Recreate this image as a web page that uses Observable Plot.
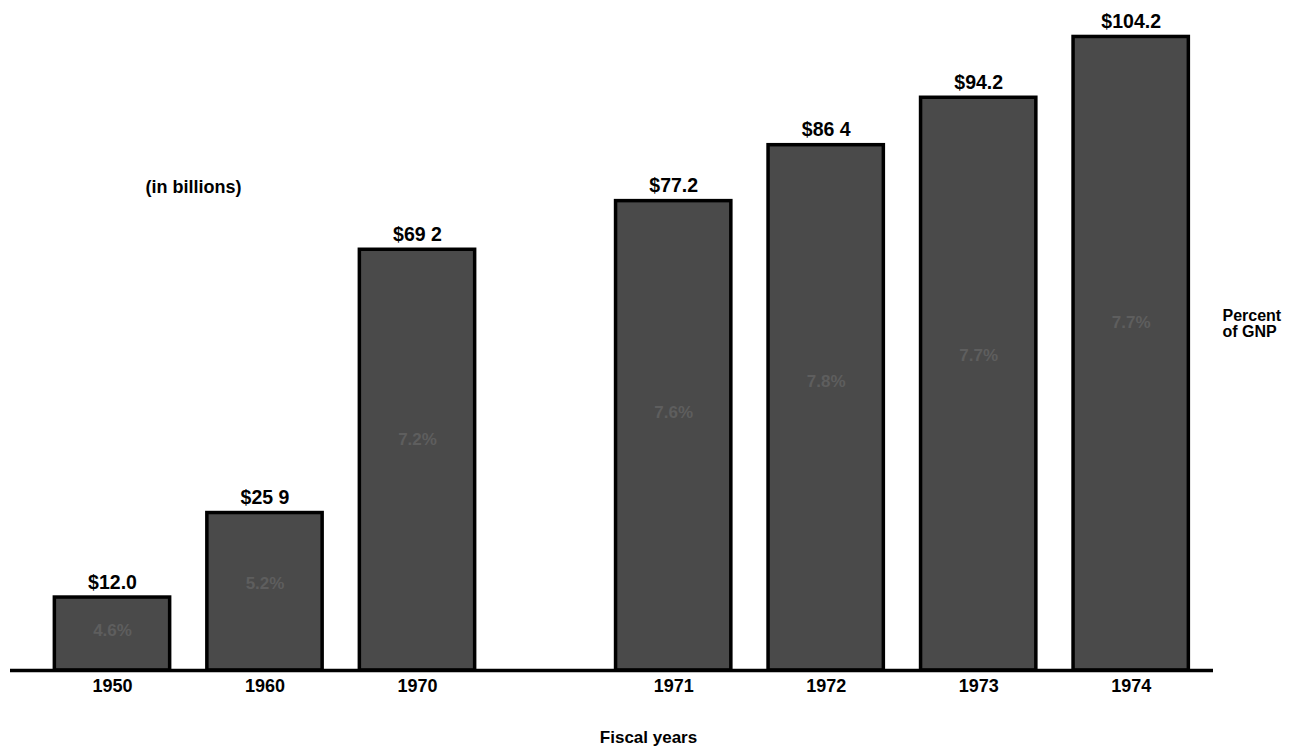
<!DOCTYPE html>
<html>
<head>
<meta charset="utf-8">
<script src="https://cdn.jsdelivr.net/npm/d3@7"></script>
<script src="https://cdn.jsdelivr.net/npm/@observablehq/plot@0.6"></script>
<style>
  html, body { margin: 0; padding: 0; background: #fff; }
  #chart { position: relative; width: 1296px; height: 748px; }
  svg { font-family: "Liberation Sans", Arial, Helvetica, sans-serif; }
</style>
</head>
<body>
<div id="chart"></div>
<script>
// ---- data ----
const years = ["1950", "1960", "1970", "1971", "1972", "1973", "1974"];
const expenditures = [12.0, 25.9, 69.2, 77.2, 86.4, 94.2, 104.2];
const valueLabels = ["$12.0", "$25 9", "$69 2", "$77.2", "$86 4", "$94.2", "$104.2"];
const percentGNP = ["4.6%", "5.2%", "7.2%", "7.6%", "7.8%", "7.7%", "7.7%"];
const unitNote = "(in billions)";
const xTitle = "Fiscal years";
const rightNote = ["Percent", "of GNP"];

// ---- layout (slot positions: extra gap between 1970 and 1971) ----
const gap = 0.68;
const halfBar = 0.378;
const rows = years.map((y, i) => ({
  year: y,
  value: expenditures[i],
  label: valueLabels[i],
  pct: percentGNP[i],
  slot: i + (i >= 3 ? gap : 0)
}));

const W = 1296, H = 748;
const x0 = 112, step = 152.5;
const xDomain = [(0 - x0) / step, (W - x0) / step];
const baseY = 670;
const pxPerUnit = 6.08;
const yDomain = [0, baseY / pxPerUnit];

const plot = Plot.plot({
  width: W,
  height: H,
  marginLeft: 0,
  marginRight: 0,
  marginTop: 0,
  marginBottom: H - baseY,
  x: {type: "linear", domain: xDomain, axis: null},
  y: {domain: yDomain, axis: null},
  style: {fontFamily: "'Liberation Sans', Arial, Helvetica, sans-serif", background: "#fff"},
  marks: [
    Plot.rectY(rows, {
      x1: d => d.slot - halfBar,
      x2: d => d.slot + halfBar,
      y1: 0,
      y2: "value",
      fill: "#4a4a4a",
      stroke: "#000",
      strokeWidth: 3.5
    }),
    Plot.text(rows, {
      x: "slot",
      y: d => d.value * 0.55,
      text: "pct",
      fill: "#5e5e5e",
      fontSize: 17,
      fontWeight: "bold"
    }),
    Plot.text(rows, {
      x: "slot",
      y: "value",
      text: "label",
      dy: -15,
      fontSize: 19.5,
      fontWeight: "bold",
      fill: "#000"
    }),
    Plot.ruleY([0], {
      x1: (10 - x0) / step,
      x2: (1213 - x0) / step,
      stroke: "#000",
      strokeWidth: 3.5
    }),
    Plot.axisX(rows.map(d => d.slot), {
      tickSize: 0,
      tickPadding: 9,
      tickFormat: (s) => rows.find(r => r.slot === s).year,
      fontSize: 18,
      fontWeight: "bold",
      fill: "#000",
      label: null
    }),
    Plot.text([xTitle], {
      x: (648 - x0) / step,
      y: 0,
      dy: 67,
      fontSize: 17,
      fontWeight: "bold",
      fill: "#000"
    }),
    Plot.text([unitNote], {
      x: (193 - x0) / step,
      y: (baseY - 187) / pxPerUnit,
      fontSize: 18,
      fontWeight: "bold",
      fill: "#000"
    }),
    Plot.text([rightNote.join("\n")], {
      x: (1222 - x0) / step,
      y: (baseY - 323) / pxPerUnit,
      textAnchor: "start",
      lineHeight: 1.0,
      fontSize: 16,
      fontWeight: "bold",
      fill: "#000"
    })
  ]
});

document.getElementById("chart").appendChild(plot);
</script>
</body>
</html>
